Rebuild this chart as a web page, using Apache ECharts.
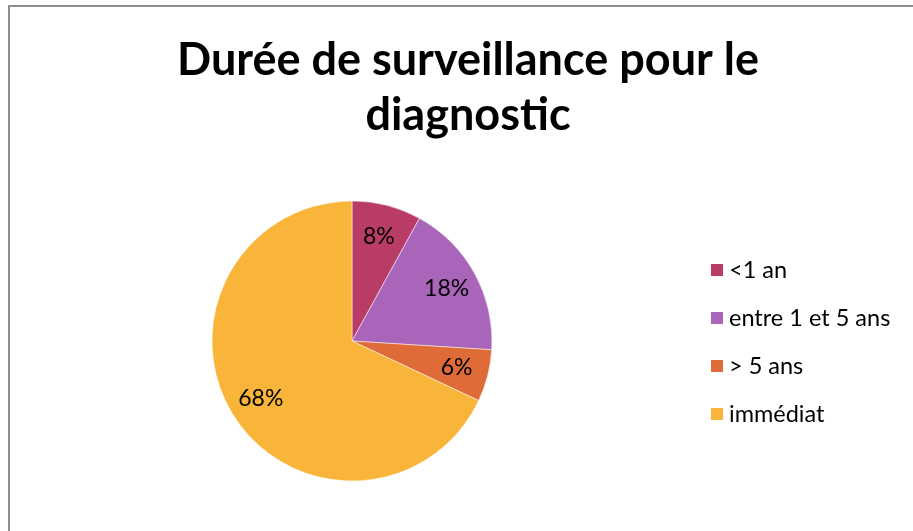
<!DOCTYPE html>
<html>
<head>
<meta charset="utf-8">
<script src="https://cdn.jsdelivr.net/npm/echarts@6/dist/echarts.min.js"></script>
<style>
  body { margin: 0; background: #fff; }
  .frame {
    position: absolute;
    left: 8px;
    top: 5px;
    width: 1000px;
    height: 600px;
    border-left: 2px solid #8e8e8e;
    border-top: 2px solid #8e8e8e;
  }
  #main { position: absolute; left: 0; top: 0; width: 913px; height: 531px; }
</style>
</head>
<body>
<div class="frame"></div>
<div id="main"></div>
<script>
// données du graphique
const categories = ['<1 an', 'entre 1 et 5 ans', '> 5 ans', 'immédiat'];
const values = [8, 18, 6, 68];
const colors = ['#B83C65', '#A965BA', '#DF6C38', '#F8B53A'];

const pieData = categories.map((name, i) => ({
  name: name,
  value: values[i],
  itemStyle: { color: colors[i] }
}));

const chart = echarts.init(document.getElementById('main'));
const fontFam = 'Lato, "Open Sans", sans-serif';

chart.setOption({
  animation: false,
  backgroundColor: 'transparent',
  title: {
    text: 'Durée de surveillance pour le\ndiagnostic',
    left: 463,
    top: 28,
    textAlign: 'center',
    textStyle: {
      fontFamily: fontFam,
      fontWeight: 'bold',
      fontSize: 45,
      lineHeight: 55,
      color: '#000'
    }
  },
  legend: {
    orient: 'vertical',
    left: 709,
    top: 258,
    padding: 0,
    icon: 'rect',
    itemWidth: 14,
    itemHeight: 14,
    itemGap: 24,
    data: categories,
    textStyle: { fontFamily: fontFam, fontSize: 23.5, color: '#000' }
  },
  series: [
    {
      // les parts
      type: 'pie',
      center: [352, 341],
      radius: [0, 140],
      startAngle: 90,
      clockwise: true,
      silent: true,
      label: { show: false },
      labelLine: { show: false },
      itemStyle: { borderColor: '#fff', borderWidth: 0.5 },
      data: pieData
    },
    {
      // étiquettes posées plus loin du centre
      type: 'pie',
      center: [352, 341],
      radius: [70, 140],
      startAngle: 90,
      clockwise: true,
      silent: true,
      legendHoverLink: false,
      itemStyle: { color: 'transparent' },
      label: {
        show: true,
        position: 'inside',
        formatter: p => p.value + '%',
        fontFamily: fontFam,
        fontSize: 23,
        color: '#000'
      },
      labelLine: { show: false },
      data: categories.map((name, i) => ({ name: name + ' ', value: values[i] }))
    }
  ]
});
</script>
</body>
</html>
